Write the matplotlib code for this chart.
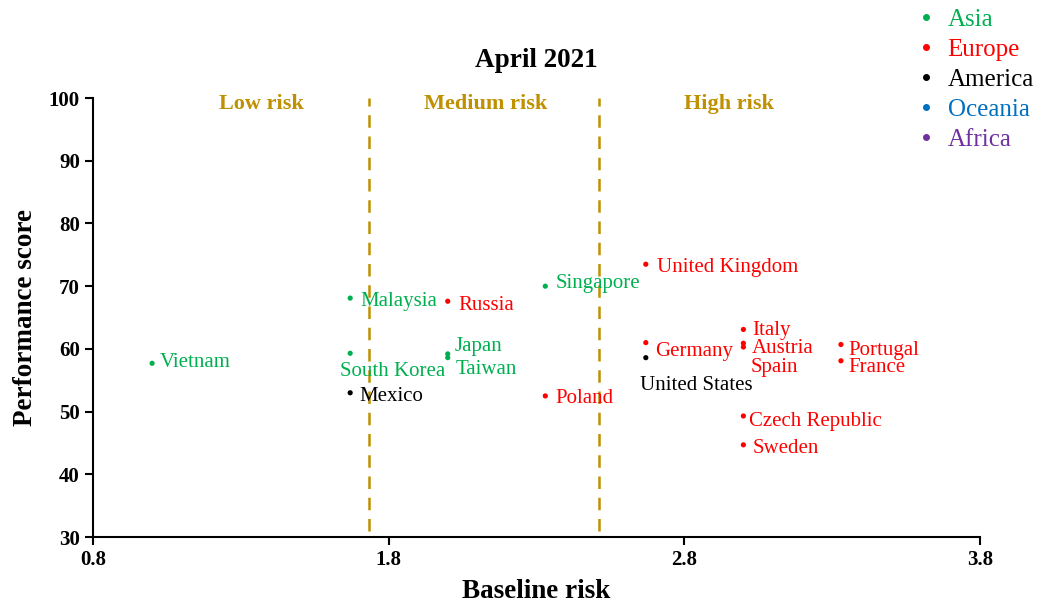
import matplotlib.pyplot as plt
from matplotlib.lines import Line2D

# fonts similar to Times New Roman
plt.rcParams['font.family'] = ['Liberation Serif', 'DejaVu Serif']

# countries and their scores
countries = ['Vietnam', 'Malaysia', 'South Korea', 'Mexico', 'Japan', 'Taiwan', 'Russia',
             'Singapore', 'Poland', 'United Kingdom', 'Germany', 'United States', 'Italy',
             'Austria', 'Spain', 'Portugal', 'France', 'Czech Republic', 'Sweden']
baseline = [1.0, 1.67, 1.67, 1.67, 2.0, 2.0, 2.0,
            2.33, 2.33, 2.67, 2.67, 2.67, 3.0,
            3.0, 3.0, 3.33, 3.33, 3.0, 3.0]
performance = [57.7, 68.1, 59.3, 53.0, 59.2, 58.6, 67.6,
               70.0, 52.5, 73.5, 61.0, 58.6, 63.1,
               60.9, 60.3, 60.7, 58.1, 49.3, 44.7]
region = ['Asia', 'Asia', 'Asia', 'America', 'Asia', 'Asia', 'Europe',
          'Asia', 'Europe', 'Europe', 'Europe', 'America', 'Europe',
          'Europe', 'Europe', 'Europe', 'Europe', 'Europe', 'Europe']

# legend entries
regions = ['Asia', 'Europe', 'America', 'Oceania', 'Africa']
region_colors = ['#00B050', '#FF0000', '#000000', '#0070C0', '#7030A0']
color_of = dict(zip(regions, region_colors))

# risk bands
risk_cuts = [1.735, 2.51]
risk_names = ['Low risk', 'Medium risk', 'High risk']
risk_label_x = [1.37, 2.13, 2.95]

# label offsets in pixels (dx, dy, ha)
offsets = {
    'Vietnam': (8, 1, 'left'), 'Malaysia': (10, -3, 'left'),
    'South Korea': (-10, -18, 'left'), 'Mexico': (9, -4, 'left'),
    'Japan': (7, 7, 'left'), 'Taiwan': (8, -12, 'left'),
    'Russia': (11, -4, 'left'), 'Singapore': (10, 3, 'left'),
    'Poland': (10, -3, 'left'), 'United Kingdom': (11, -3, 'left'),
    'Germany': (9, -9, 'left'), 'United States': (-6, -28, 'left'),
    'Italy': (9, -1, 'left'), 'Austria': (8, -5, 'left'),
    'Spain': (7, -20, 'left'), 'Portugal': (7, -6, 'left'),
    'France': (7, -7, 'left'), 'Czech Republic': (6, -6, 'left'),
    'Sweden': (9, -4, 'left'),
}

fig = plt.figure(figsize=(10.41, 6.09), dpi=100)
ax = fig.add_axes([0.0893, 0.1182, 0.852, 0.7208])

colors = [color_of[r] for r in region]
ax.scatter(baseline, performance, s=14, c=colors, zorder=3, linewidths=0)

for name, x, y, c in zip(countries, baseline, performance, colors):
    dx, dy, ha = offsets[name]
    ax.annotate(name, (x, y), xytext=(dx, dy), textcoords='offset pixels',
                ha=ha, va='center', color=c, fontsize=15)

# risk separators
gold = '#BF9000'
for cut in risk_cuts:
    ax.plot([cut, cut], [31, 100], color=gold, lw=1.8, dashes=(5, 3.5))
for name, x in zip(risk_names, risk_label_x):
    ax.text(x, 99.0, name, ha='center', va='center', color=gold,
            fontsize=16, fontweight='bold')

ax.set_xlim(0.8, 3.8)
ax.set_ylim(30, 100)
ax.set_xticks([0.8, 1.8, 2.8, 3.8])
ax.set_yticks(range(30, 101, 10))
ax.tick_params(direction='out', length=6, width=1.5, labelsize=15)
for lab in ax.get_xticklabels() + ax.get_yticklabels():
    lab.set_fontweight('bold')
for s in ['top', 'right']:
    ax.spines[s].set_visible(False)
for s in ['left', 'bottom']:
    ax.spines[s].set_linewidth(1.5)

ax.set_xlabel('Baseline risk', fontsize=19.5, fontweight='bold', labelpad=6)
ax.set_ylabel('Performance score', fontsize=19.5, fontweight='bold', labelpad=8)
ax.set_title('April 2021', fontsize=19.5, fontweight='bold', pad=22)

# legend outside top right
handles = [Line2D([], [], ls='', marker='o', ms=4, color=c) for c in region_colors]
fig.legend(handles, regions, loc='upper left', bbox_to_anchor=(0.858, 1.023),
           frameon=False, labelcolor=region_colors, fontsize=18,
           handlelength=0.8, handletextpad=0.48, labelspacing=0.3)

fig.savefig('out.png', dpi=100)
